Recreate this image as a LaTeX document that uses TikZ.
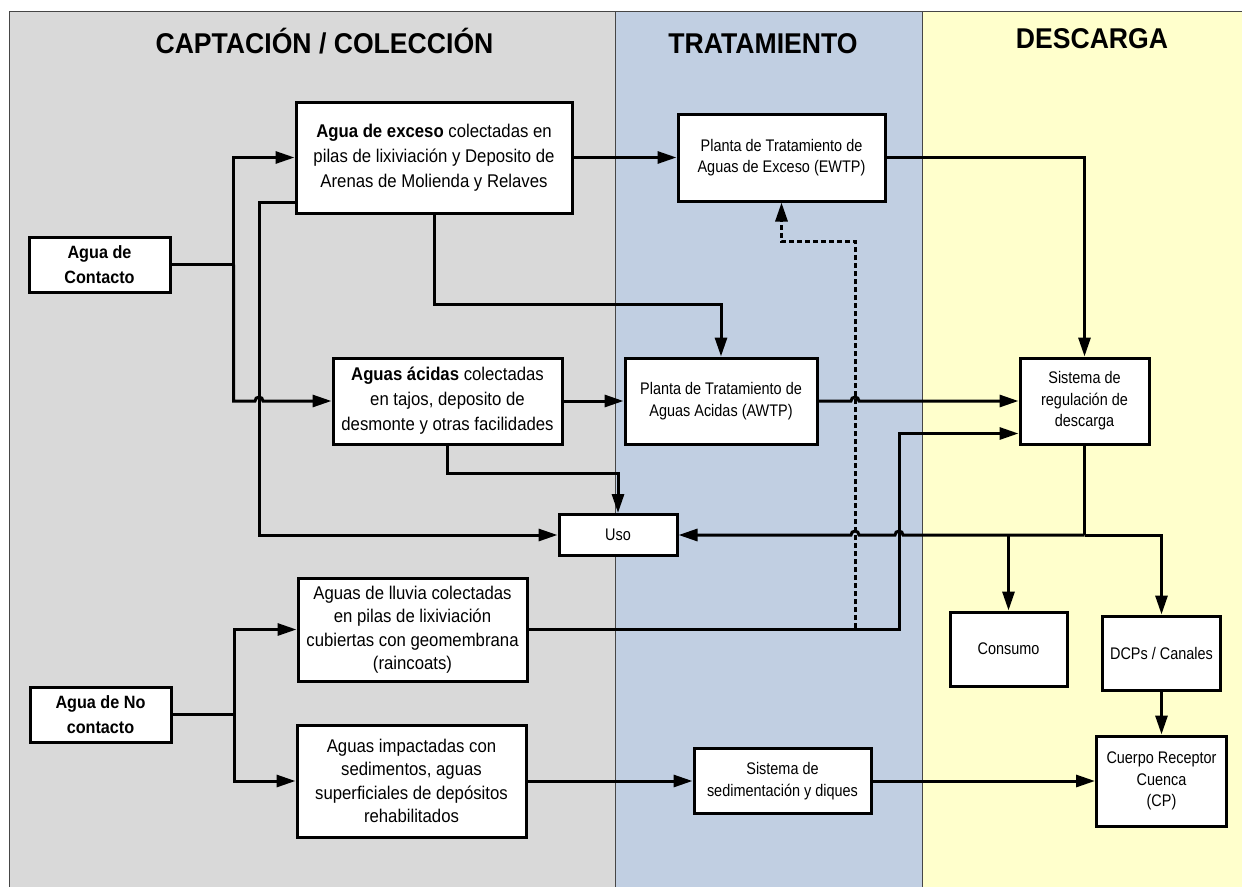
\documentclass[tikz,border=0pt]{standalone}
\usepackage{fontspec}
\setmainfont{Liberation Sans}
\newfontfamily\fbig{Liberation Sans}[FakeStretch=0.91]
\newfontfamily\fsmall{Liberation Sans}[FakeStretch=0.86]
\newfontfamily\fhead{Liberation Sans}[FakeStretch=0.93]
\usetikzlibrary{arrows.meta,calc}
\definecolor{pgray}{RGB}{217,217,217}
\definecolor{pblue}{RGB}{193,207,226}
\definecolor{pyellow}{RGB}{255,255,204}
\definecolor{pline}{RGB}{70,70,70}
\begin{document}
\begin{tikzpicture}[x=1pt,y=-1pt,
  box/.style={draw=black,line width=3pt,fill=white,inner sep=0pt,align=center},
  bigtxt/.style={font=\fbig\fontsize{18.4}{25}\selectfont},
  midtxt/.style={font=\fbig\fontsize{18.4}{23.5}\selectfont},
  smalltxt/.style={font=\fsmall\fontsize{16.8}{21.5}\selectfont},
  conn/.style={line width=3pt,draw=black},
  arr/.style={conn,-{Triangle[length=19pt,width=12pt]}},
  dotc/.style={arr,dash pattern=on 5pt off 3pt},
  head/.style={font=\fhead\bfseries\fontsize{28.6}{32}\selectfont,anchor=base,inner sep=0pt},
  panel/.style={draw=pline,line width=1pt}
]
\clip (0,0) rectangle (1242,886);
\fill[white] (0,0) rectangle (1242,886);
% panels
\filldraw[panel,fill=pgray] (9,11) rectangle (615,900);
\filldraw[panel,fill=pblue] (615,11) rectangle (922,900);
\filldraw[panel,fill=pyellow] (922,11) rectangle (1260,900);
% headings
\node[head] (h1) at (324.5,53) {CAPTACIÓN / COLECCIÓN};
\node[head] (h2) at (763,53) {TRATAMIENTO};
\node[head] (h3) at (1092,48) {DESCARGA};
% boxes
\node[box,bigtxt,minimum width=276pt,minimum height=111pt] (exceso) at (434,157.5)
  {\textbf{Agua de exceso} colectadas en\\pilas de lixiviación y Deposito de\\Arenas de Molienda y Relaves};
\node[box,smalltxt,minimum width=207pt,minimum height=87pt] (ewtp) at (781.5,157.5)
  {Planta de Tratamiento de\\Aguas de Exceso (EWTP)};
\node[box,font=\fbig\bfseries\fontsize{17.8}{25}\selectfont,minimum width=141pt,minimum height=55pt] (contacto) at (99.5,264.5)
  {Agua de\\Contacto};
\node[box,bigtxt,minimum width=229pt,minimum height=86pt] (acidas) at (447.5,401)
  {\textbf{Aguas ácidas} colectadas\\en tajos, deposito de\\desmonte y otras facilidades};
\node[box,smalltxt,minimum width=192pt,minimum height=86pt] (awtp) at (721,401)
  {Planta de Tratamiento de\\Aguas Acidas (AWTP)};
\node[box,smalltxt,minimum width=129pt,minimum height=86pt] (sis) at (1084.5,401)
  {Sistema de\\regulación de\\descarga};
\node[box,smalltxt,minimum width=118pt,minimum height=41pt] (uso) at (618,535)
  {Uso};
\node[box,midtxt,minimum width=229pt,minimum height=103pt] (lluvia) at (412.5,629.5)
  {Aguas de lluvia colectadas\\en pilas de lixiviación\\cubiertas con geomembrana\\(raincoats)};
\node[box,font=\fbig\bfseries\fontsize{17.8}{25}\selectfont,minimum width=141pt,minimum height=55pt] (nocont) at (100.5,714.5)
  {Agua de No\\contacto};
\node[box,midtxt,minimum width=229pt,minimum height=112pt] (impact) at (411.5,781)
  {Aguas impactadas con\\sedimentos, aguas\\superficiales de depósitos\\rehabilitados};
\node[box,smalltxt,minimum width=177pt,minimum height=65pt] (sed) at (782.5,781)
  {Sistema de\\sedimentación y diques};
\node[box,smalltxt,minimum width=130pt,minimum height=90pt] (cuerpo) at (1161.5,781)
  {Cuerpo Receptor\\Cuenca\\(CP)};
\node[box,smalltxt,minimum width=117pt,minimum height=74pt] (consumo) at (1008.5,649)
  {Consumo};
\node[box,smalltxt,minimum width=118pt,minimum height=74pt] (dcp) at (1161.5,653)
  {DCPs / Canales};
% connectors
\draw[conn] (contacto.east) -- ++(62,0) coordinate (jc);
\draw[arr] (jc) |- (exceso.west);
\draw[arr] ($(exceso.west)+(0,44.5)$) -| (259,535) -- (uso.west);
\draw[arr] (jc) |- (255,401) arc[start angle=180,end angle=0,radius=4pt] -- (acidas.west);
\draw[arr] (exceso.east) -- (ewtp.west);
\draw[arr] (exceso.south) -- ++(0,90) -| (awtp.north);
\draw[arr] (acidas.east) -- (awtp.west);
\draw[arr] (acidas.south) -- ++(0,28) -| (uso.north);
\draw[arr] (ewtp.east) -| (sis.north);
\draw[arr] (awtp.east) -- (851,401) arc[start angle=180,end angle=0,radius=4pt] -- (sis.west);
\draw[arr] (lluvia.east) -| (899,433.5) -- ($(sis.west)+(0,32.5)$);
\draw[dotc] (lluvia.east) -| (855,241.5) -| (ewtp.south);
\draw[conn] (sis.south) -- (sis.south |- uso.east) coordinate (js);
\draw[arr] (js) -- (903,535) arc[start angle=0,end angle=180,radius=4pt] -- (859,535) arc[start angle=0,end angle=180,radius=4pt] -- (uso.east);
\draw[arr] (js) -| (dcp.north);
\draw[arr] (consumo.north |- js) -- (consumo.north);
\draw[arr] (dcp.south) -- (cuerpo.north);
\draw[conn] (nocont.east) -- ++(62,0) coordinate (jn);
\draw[arr] (jn) |- (lluvia.west);
\draw[arr] (jn) |- (impact.west);
\draw[arr] (impact.east) -- (sed.west);
\draw[arr] (sed.east) -- (cuerpo.west);
\end{tikzpicture}
\end{document}
